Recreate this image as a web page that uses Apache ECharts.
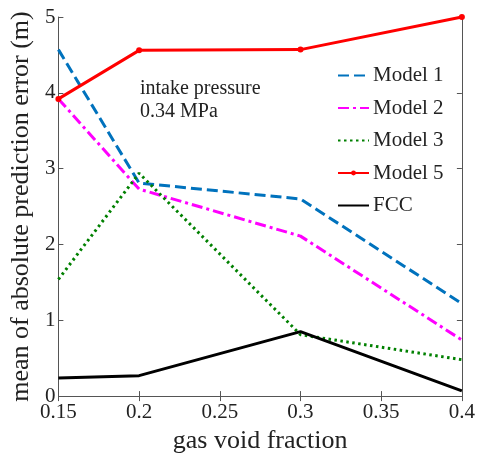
<!DOCTYPE html>
<html><head><meta charset="utf-8">
<script src="https://cdn.jsdelivr.net/npm/echarts@6/dist/echarts.min.js"></script>
<style>html,body{margin:0;padding:0;background:#fff}#c{width:478px;height:459px}</style>
</head><body><div id="c"></div>
<script>
const xValues = [0.15, 0.2, 0.3, 0.4];
const model1 = [4.57, 2.81, 2.6, 1.22];
const model2 = [3.92, 2.73, 2.11, 0.74];
const model3 = [1.54, 2.94, 0.81, 0.48];
const model5 = [3.92, 4.56, 4.57, 5.0];
const fcc = [0.24, 0.27, 0.85, 0.07];
const seriesNames = ['Model 1', 'Model 2', 'Model 3', 'Model 5', 'FCC'];
const annotation = 'intake pressure\n0.34 MPa';

const font = 'Liberation Serif';
function pairs(v){ return xValues.map((x,i)=>[x,v[i]]); }
const axisLine = {show:true, lineStyle:{color:'#555', width:1}};
const tick = {inside:true, length:5, lineStyle:{color:'#555'}};
const chart = echarts.init(document.getElementById('c'));
chart.setOption({
  animation:false,
  grid:{left:55, right:12, top:17, bottom:59},
  legend:{
    orient:'vertical', left:337, top:65, padding:0, itemGap:11.5, itemWidth:31, itemHeight:6,
    textStyle:{fontFamily:font, fontSize:21, color:'#222', padding:[0,0,0,-1]},
    data:seriesNames.map(n => n === 'Model 5' ? {name:n} : {name:n, itemStyle:{opacity:0}})
  },
  graphic:[{type:'text', left:140, top:77, style:{text:annotation, font:'20px "Liberation Serif"', fill:'#222', lineHeight:23}}],
  xAxis:[{
    type:'value', min:0.15, max:0.4, interval:0.05,
    name:'gas void fraction', nameLocation:'middle', nameGap:24,
    nameTextStyle:{fontFamily:font, fontSize:26, color:'#222'},
    axisLine:axisLine, axisTick:tick,
    axisLabel:{fontFamily:font, fontSize:21, color:'#222', margin:6, formatter:v=>String(+v.toFixed(2))},
    splitLine:{show:false}
  },{
    type:'value', position:'top', min:0.15, max:0.4, interval:0.05,
    axisLine:axisLine, axisTick:tick,
    axisLabel:{show:false}, splitLine:{show:false}
  }],
  yAxis:[{
    type:'value', min:0, max:5, interval:1,
    name:'mean of absolute prediction error (m)', nameLocation:'middle', nameGap:20,
    nameTextStyle:{fontFamily:font, fontSize:26, color:'#222'},
    axisLine:axisLine, axisTick:tick,
    axisLabel:{fontFamily:font, fontSize:21, color:'#222', margin:3},
    splitLine:{show:false}
  },{
    type:'value', position:'right', min:0, max:5, interval:1,
    axisLine:axisLine, axisTick:tick,
    axisLabel:{show:false}, splitLine:{show:false}
  }],
  series:[
    {name:'Model 1', type:'line', data:pairs(model1), showSymbol:false, symbol:'none', color:'#0072BD', lineStyle:{width:3, type:[11,5]}},
    {name:'Model 2', type:'line', data:pairs(model2), showSymbol:false, symbol:'none', color:'#FF00FF', lineStyle:{width:3, type:[11,4,3,4]}},
    {name:'Model 3', type:'line', data:pairs(model3), showSymbol:false, symbol:'none', color:'#008000', lineStyle:{width:3, type:[2.5,3.5]}},
    {name:'Model 5', type:'line', data:pairs(model5), symbol:'circle', symbolSize:6, color:'#FF0000', lineStyle:{width:3}},
    {name:'FCC', type:'line', data:pairs(fcc), showSymbol:false, symbol:'none', color:'#000000', lineStyle:{width:3}}
  ]
});
</script></body></html>
